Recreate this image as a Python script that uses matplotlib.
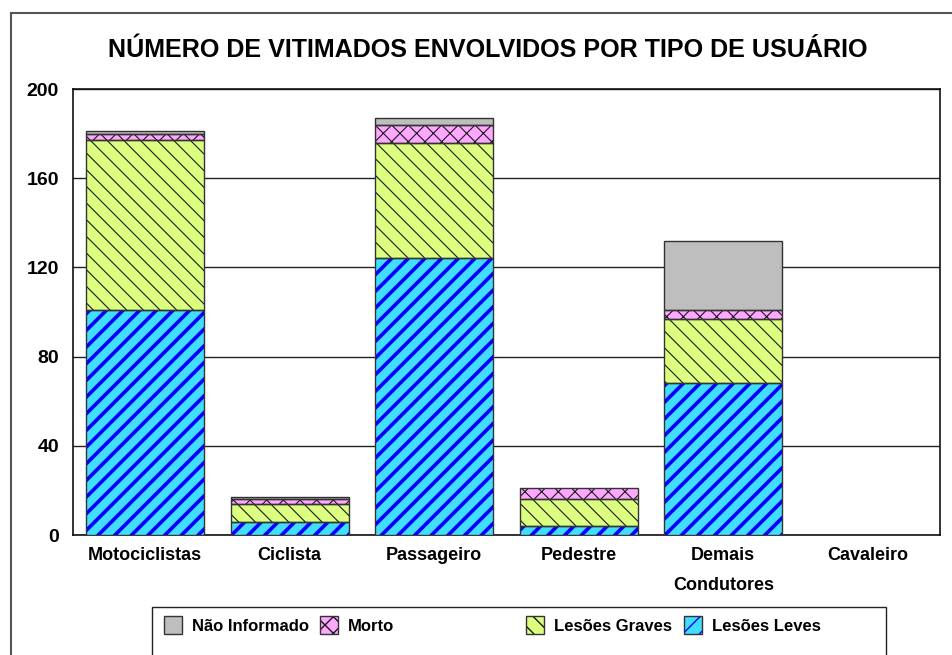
import matplotlib
matplotlib.use("Agg")
import matplotlib.pyplot as plt
from matplotlib.patches import Rectangle
from matplotlib.legend_handler import HandlerTuple
import numpy as np

categories = ['Motociclistas', 'Ciclista', 'Passageiro', 'Pedestre', 'Demais\nCondutores', 'Cavaleiro']
lesoes_leves = [101, 6, 124, 4, 68, 0]
lesoes_graves = [76, 8, 52, 12, 29, 0]
morto = [3, 2, 8, 5, 4, 0]
nao_informado = [1, 1, 3, 0, 31, 0]
y_ticks = [0, 40, 80, 120, 160, 200]

plt.rcParams['font.family'] = ['Liberation Sans', 'DejaVu Sans']

W, H = 952, 655
fig = plt.figure(figsize=(W / 100, H / 100), dpi=100)
ax = fig.add_axes([73 / W, 1 - 535 / H, (940 - 73) / W, (535 - 89) / H])

x = np.arange(len(categories))
width = 0.82

series = [
    ('Lesões Leves', lesoes_leves, '#40DDFF', '#0000FF', '//', 2.6),
    ('Lesões Graves', lesoes_graves, '#DCFF80', '#1A1A1A', '\\\\', 0.8),
    ('Morto', morto, '#FFA6FF', '#1A1A1A', 'xx', 0.8),
    ('Não Informado', nao_informado, '#BEBEBE', '#BEBEBE', None, 0.8),
]

bottom = np.zeros(len(categories))
handles = {}
for name, vals, face, hcol, hatch, hlw in series:
    vals = np.array(vals, dtype=float)
    with plt.rc_context({'hatch.linewidth': hlw}):
        b1 = ax.bar(x, vals, width, bottom=bottom, color=face, edgecolor=hcol,
                    hatch=hatch, linewidth=0, zorder=3)
    for p in b1.patches:
        if hasattr(p, 'set_hatch_linewidth'):
            p.set_hatch_linewidth(hlw)
    b2 = ax.bar(x, vals, width, bottom=bottom, facecolor='none', edgecolor='#333333',
                linewidth=1.0, zorder=4)
    for i, v in enumerate(vals):
        if v == 0:
            b1.patches[i].set_visible(False)
            b2.patches[i].set_visible(False)
    handles[name] = (b1.patches[0], b2.patches[0])
    bottom += vals

ax.set_xlim(-0.5, len(categories) - 0.5)
ax.set_ylim(0, 200)
ax.set_yticks(y_ticks)
ax.set_yticklabels([str(t) for t in y_ticks], fontsize=14, fontweight='bold')
ax.set_xticks(x)
ax.set_xticklabels(categories, fontsize=13, fontweight='bold', linespacing=2.0)
ax.tick_params(axis='both', length=0)
ax.tick_params(axis='y', pad=10)
ax.tick_params(axis='x', pad=9)
ax.yaxis.grid(True, color='#222222', linewidth=1.0, zorder=1)
ax.set_axisbelow(True)
for s in ax.spines.values():
    s.set_color('#111111')
    s.set_linewidth(1.2)

fig.text(488 / W, 1 - 57 / H, 'NÚMERO DE VITIMADOS ENVOLVIDOS POR TIPO DE USUÁRIO',
         ha='center', va='baseline', fontsize=18.1, fontweight='bold')

# outer border (cropped at right/bottom)
fig.add_artist(Rectangle((11 / W, -0.1), 1.2, 1 - 13 / H + 0.1, transform=fig.transFigure,
                         fill=False, edgecolor='#555555', linewidth=1.5))
# legend frame (cropped at bottom)
fig.add_artist(Rectangle((152 / W, -0.1), (886 - 152) / W, 1 - 607 / H + 0.1,
                         transform=fig.transFigure, fill=False, edgecolor='#222222',
                         linewidth=1.0))

order = ['Não Informado', 'Morto', 'Lesões Graves', 'Lesões Leves']
entry_x = [164, 320, 526, 684]
for name, ex in zip(order, entry_x):
    lg = fig.legend([handles[name]], [name], loc='center left',
                    bbox_to_anchor=(ex / W, 1 - 625 / H), frameon=False,
                    handler_map={tuple: HandlerTuple(ndivide=1)},
                    prop={'size': 12, 'weight': 'bold'}, handlelength=1.1,
                    handleheight=1.2, handletextpad=0.6, borderpad=0, borderaxespad=0)

fig.savefig('out.png', dpi=100)
